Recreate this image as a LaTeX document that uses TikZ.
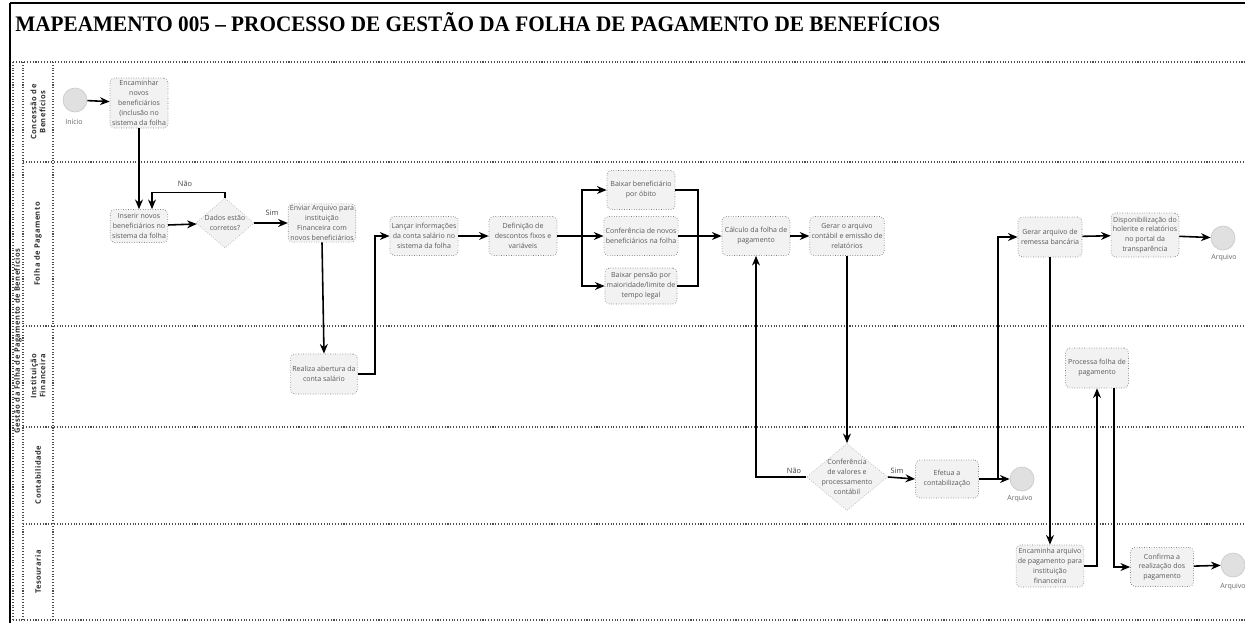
\documentclass[tikz,border=0pt]{standalone}
\usepackage{fontspec}
\setmainfont{Liberation Serif}
\setsansfont{Open Sans}
\newfontfamily\lanefont[LetterSpace=6]{Open Sans}
\usetikzlibrary{arrows.meta,shapes.geometric}
\begin{document}
\begin{tikzpicture}[x=0.02cm,y=-0.02cm,
  task/.style={draw=black!50, densely dotted, fill=black!5, rounded corners=2.5pt, align=center,
    font=\sffamily\fontsize{4}{5.6}\selectfont, text=black!65, inner sep=1pt,
    minimum width=1.36cm, minimum height=0.78cm},
  gate/.style={shape=diamond, draw=black!30, densely dotted, fill=black!5, inner sep=0pt},
  gatetext/.style={align=center, font=\sffamily\fontsize{4}{5.6}\selectfont, text=black!65, inner sep=0pt},
  evt/.style={circle, draw=black!20, fill=black!12, minimum size=0.48cm, inner sep=0pt},
  evlabel/.style={font=\sffamily\fontsize{4}{5}\selectfont, text=black!60},
  flowlabel/.style={font=\sffamily\fontsize{4.2}{5}\selectfont, text=black!75},
  lanelabel/.style={rotate=90, align=center, font=\lanefont\bfseries\fontsize{4.3}{5.2}\selectfont, text=black!80},
  arr/.style={draw=black, line width=0.9pt, -{Stealth[length=5.5pt,width=4.5pt]}},
  ln/.style={draw=black, line width=0.9pt},
  laneline/.style={draw=black!70, densely dotted, line width=0.6pt}
]
\useasboundingbox (0,0) rectangle (1245,623);
% frame
\draw[line width=1.4pt] (10,3) -- (1245,3);
\draw[line width=1.6pt] (10,3) -- (10,623);
% title
\node[anchor=base west, inner sep=0pt] (title) at (15,31)
  {\resizebox{18.5cm}{0.38cm}{\bfseries MAPEAMENTO 005 – PROCESSO DE GESTÃO DA FOLHA DE PAGAMENTO DE BENEFÍCIOS}};
% pool and lanes
\draw[laneline] (13,62) -- (1245,62);
\draw[laneline] (13,620) -- (1245,620);
\draw[laneline] (13,62) -- (13,620);
\draw[laneline] (23,62) -- (23,620);
\draw[laneline] (53,62) -- (53,620);
\foreach \yy in {162,326,427,524} \draw[laneline] (23,\yy) -- (1245,\yy);
\node[lanelabel] (pool) at (18,341) {Gestão da Folha de Pagamento de Benefícios};
\node[lanelabel] (l1) at (38,112) {Concessão de\\Benefícios};
\node[lanelabel] (l2) at (38,244) {Folha de Pagamento};
\node[lanelabel] (l3) at (38,376) {Instituição\\Financeira};
\node[lanelabel] (l4) at (38,475) {Contabilidade};
\node[lanelabel] (l5) at (38,572) {Tesouraria};

% nodes
\node[evt] (ini) at (75,100) {};
\node[evlabel] (inil) at (74,122) {Início};
\node[task, minimum width=1.16cm, minimum height=1.0cm] (enc) at (139,103)
  {Encaminhar\\novos\\beneficiários\\(inclusão no\\sistema da folha};
\node[task, minimum width=1.04cm, minimum height=0.66cm] (ins) at (139,226)
  {Inserir novos\\beneficiários no\\sistema da folha};
\node[gate, minimum width=1.16cm, minimum height=1.0cm] (dados) at (225,223) {};
\node[gatetext] (dadost) at (dados) {Dados estão\\corretos?};
\node[task, minimum width=1.24cm, minimum height=0.76cm] (env) at (322,223)
  {Enviar Arquivo para\\instituição\\Financeira com\\novos beneficiários};
\node[task, minimum width=1.32cm, minimum height=0.8cm] (real) at (324,374)
  {Realiza abertura da\\conta salário};
\node[task] (lanc) at (424,236) {Lançar informações\\da conta salário no\\sistema da folha};
\node[task] (def) at (523,236) {Definição de\\descontos fixos e\\variáveis};
\node[task] (bb) at (641,190) {Baixar beneficiário\\por óbito};
\node[task] (conf) at (641,236) {Conferência de novos\\beneficiários na folha};
\node[task, minimum height=0.72cm] (bp) at (641,286) {Baixar pensão por\\maioridade/limite de\\tempo legal};
\node[task] (calc) at (756,236) {Cálculo da folha de\\pagamento};
\node[task] (gca) at (847,236) {Gerar o arquivo\\contábil e emissão de\\relatórios};
\node[gate, minimum width=1.62cm, minimum height=1.34cm] (cv) at (847,477) {};
\node[gatetext] (cvt) at (cv) {Conferência\\de valores e\\processamento\\contábil};
\node[task, minimum width=1.26cm, minimum height=0.76cm] (efe) at (947,479) {Efetua a\\contabilização};
\node[evt] (arq1) at (1022,479) {};
\node[evlabel] (arq1l) at (1020,499) {Arquivo};
\node[task, minimum width=1.28cm, minimum height=0.8cm] (grb) at (1050,237) {Gerar arquivo de\\remessa bancária};
\node[task, minimum width=1.28cm, minimum height=0.88cm] (disp) at (1145,235)
  {Disponibilização do\\holerite e relatórios\\no portal da\\transparência};
\node[evt] (arq2) at (1223,238) {};
\node[evlabel] (arq2l) at (1224,258) {Arquivo};
\node[task, minimum width=1.26cm, minimum height=0.8cm] (proc) at (1097,368) {Processa folha de\\pagamento};
\node[task, minimum width=1.3cm, minimum height=0.84cm] (enca) at (1050,566)
  {Encaminha arquivo\\de pagamento para\\instituição\\financeira};
\node[task, minimum width=1.26cm, minimum height=0.78cm] (confm) at (1162,567)
  {Confirma a\\realização dos\\pagamento};
\node[evt] (arq3) at (1233,565) {};
\node[evlabel] (arq3l) at (1233,587) {Arquivo};

% connectors
\draw[arr] (ini) -- (enc);
\draw[arr] (enc.south) -- (ins.north);
\draw[arr] (ins) -- (dados);
\draw[arr] (dados.north) -- ++(0,-5) -| ([xshift=0.26cm]ins.north);
\node[flowlabel] (nao1) at (185,184) {Não};
\draw[arr] (dados) -- (env);
\node[flowlabel] (sim1) at (272,213) {Sim};
\draw[arr] (env.south) -- (real.north);
\draw[arr] (real.east) -- ++(17,0) |- (lanc.west);
\draw[arr] (lanc) -- (def);
\coordinate (fork) at (582,236);
\draw[ln] (def.east) -- (fork);
\draw[arr] (fork) |- (bb.west);
\draw[arr] (fork) -- (conf.west);
\draw[arr] (fork) |- (bp.west);
\coordinate (join) at (698,236);
\draw[ln] (bb.east) -| (join);
\draw[ln] (bp.east) -| (join);
\draw[ln] (conf.east) -- (join);
\draw[arr] (join) -- (calc.west);
\draw[arr] (calc) -- (gca);
\draw[arr] (gca.south) -- (cv.north);
\draw[arr] (cv.west) -| (calc.south);
\node[flowlabel] (nao2) at (794,471) {Não};
\draw[arr] (cv.east) -- (efe.west);
\node[flowlabel] (sim2) at (897,471) {Sim};
\draw[arr] (efe.east) -- (arq1.west);
\coordinate (split) at (998,479);
\draw[arr] (split) |- (grb.west);
\draw[arr] (grb) -- (disp);
\draw[arr] (disp) -- (arq2);
\draw[arr] (grb.south) -- (enca.north);
\draw[arr] (enca.east) -| (proc.south);
\draw[arr] ([xshift=0.34cm]proc.south) |- (confm.west);
\draw[arr] (confm) -- (arq3);
\end{tikzpicture}
\end{document}
